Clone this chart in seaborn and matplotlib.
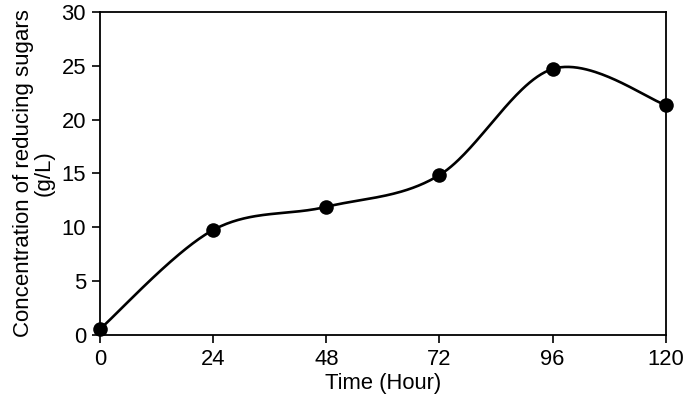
import numpy as np
import pandas as pd
import matplotlib
matplotlib.use("Agg")
import matplotlib.pyplot as plt
import seaborn as sns

time_h = [0, 24, 48, 72, 96, 120]
sugars = [0.55, 9.75, 11.9, 14.85, 24.7, 21.35]
x_ticks = [0, 24, 48, 72, 96, 120]
y_ticks = [0, 5, 10, 15, 20, 25, 30]

sns.set_theme(style="ticks")
plt.rcParams['font.family'] = ['Liberation Sans', 'DejaVu Sans']


def excel_smooth(x, y, n=60):
    # Bezier smoothing through data points (Excel-style "smoothed line")
    px = np.array(x, float)
    py = np.array(y, float)
    xs, ys = [], []
    m = len(px)
    for i in range(m - 1):
        i0 = max(i - 1, 0)
        i3 = min(i + 2, m - 1)
        p0 = np.array([px[i], py[i]])
        p3 = np.array([px[i + 1], py[i + 1]])
        c1 = p0 + (np.array([px[i + 1], py[i + 1]]) - np.array([px[i0], py[i0]])) / 6
        c2 = p3 - (np.array([px[i3], py[i3]]) - np.array([px[i], py[i]])) / 6
        t = np.linspace(0, 1, n)[:, None]
        b = ((1 - t) ** 3) * p0 + 3 * ((1 - t) ** 2) * t * c1 + 3 * (1 - t) * t ** 2 * c2 + t ** 3 * p3
        xs.extend(b[:, 0])
        ys.extend(b[:, 1])
    return np.array(xs), np.array(ys)


sx, sy = excel_smooth(time_h, sugars)
curve = pd.DataFrame({"x": sx, "y": sy})
pts = pd.DataFrame({"Time": time_h, "Sugars": sugars})

fig = plt.figure(figsize=(6.85, 4.09), dpi=100)
ax = fig.add_axes([0.146, 0.181, 0.826, 0.790])

ax.plot(curve["x"], curve["y"], color="black", lw=1.9, zorder=2)
sns.scatterplot(data=pts, x="Time", y="Sugars", ax=ax, color="black", s=110,
                edgecolor="black", linewidth=0, zorder=3, legend=False)

ax.set_xlim(0, 120)
ax.set_ylim(0, 30)
ax.set_xticks(x_ticks)
ax.set_yticks(y_ticks)
ax.tick_params(axis="both", direction="out", length=6, width=1.2, color="black",
               labelsize=15.8, labelcolor="black", pad=4)
for s in ax.spines.values():
    s.set_visible(True)
    s.set_color("black")
    s.set_linewidth(1.3)
ax.set_xlabel("Time (Hour)", fontsize=15.8, color="black", labelpad=2)
ax.set_ylabel("Concentration of reducing sugars\n(g/L)", fontsize=16, color="black",
              labelpad=5, linespacing=1.0)
for c in ax.collections:
    c.set_clip_on(False)

fig.savefig("out.png", dpi=100)
